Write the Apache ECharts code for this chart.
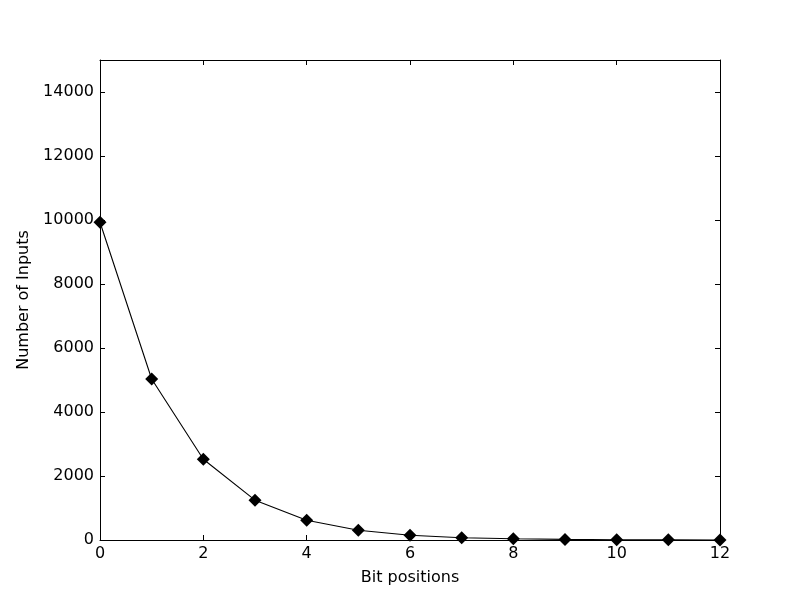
<!DOCTYPE html>
<html>
<head>
<meta charset="utf-8">
<script src="https://cdn.jsdelivr.net/npm/echarts@6/dist/echarts.min.js"></script>
<style>
  html, body { margin: 0; padding: 0; background: #fff; }
  #chart { width: 800px; height: 600px; }
</style>
</head>
<body>
<div id="chart"></div>
<script>
const bitPositions = [0, 1, 2, 3, 4, 5, 6, 7, 8, 9, 10, 11, 12]
const inputCounts = [9930, 5030, 2525, 1245, 615, 305, 150, 70, 38, 18, 9, 4, 2]
const xTicks = [0, 2, 4, 6, 8, 10, 12]
const yTicks = [0, 2000, 4000, 6000, 8000, 10000, 12000, 14000]

const points = bitPositions.map((x, i) => [x, inputCounts[i]])
const font = 'DejaVu Sans'

let chart = echarts.init(document.getElementById('chart'))

const tick = { show: true, inside: true, length: 5, lineStyle: { color: '#000', width: 1 } }
const line = { show: true, onZero: false, lineStyle: { color: '#000', width: 1 } }

let option = {
  animation: false,
  grid: { left: 100, right: 80, top: 60, bottom: 60, containLabel: false },
  xAxis: [
    {
      type: 'value',
      min: 0,
      max: 12,
      interval: 2,
      position: 'bottom',
      name: 'Bit positions',
      nameLocation: 'middle',
      nameGap: 30,
      nameTextStyle: { fontFamily: font, fontSize: 16, color: '#000' },
      axisLine: line,
      axisTick: tick,
      splitLine: { show: false },
      axisLabel: {
        fontFamily: font, fontSize: 16, color: '#000', margin: 6,
        formatter: v => (xTicks.includes(v) ? String(v) : '')
      }
    },
    {
      type: 'value', min: 0, max: 12, interval: 2, position: 'top',
      axisLine: line, axisTick: tick, axisLabel: { show: false }, splitLine: { show: false }
    }
  ],
  yAxis: [
    {
      type: 'value',
      min: 0,
      max: 15000,
      interval: 2000,
      position: 'left',
      name: 'Number of Inputs',
      nameLocation: 'middle',
      nameGap: 62,
      nameTextStyle: { fontFamily: font, fontSize: 16, color: '#000' },
      axisLine: line,
      axisTick: tick,
      splitLine: { show: false },
      axisLabel: {
        fontFamily: font, fontSize: 16, color: '#000', margin: 6,
        showMaxLabel: false,
        formatter: v => (yTicks.includes(v) ? String(v) : '')
      }
    },
    {
      type: 'value', min: 0, max: 15000, interval: 2000, position: 'right',
      axisLine: line, axisTick: tick, axisLabel: { show: false }, splitLine: { show: false }
    }
  ],
  series: [
    {
      type: 'line',
      data: points,
      clip: true,
      symbol: 'diamond',
      symbolSize: 13,
      itemStyle: { color: '#000' },
      lineStyle: { color: '#000', width: 1.1 }
    }
  ]
}

chart.setOption(option)
</script>
</body>
</html>
